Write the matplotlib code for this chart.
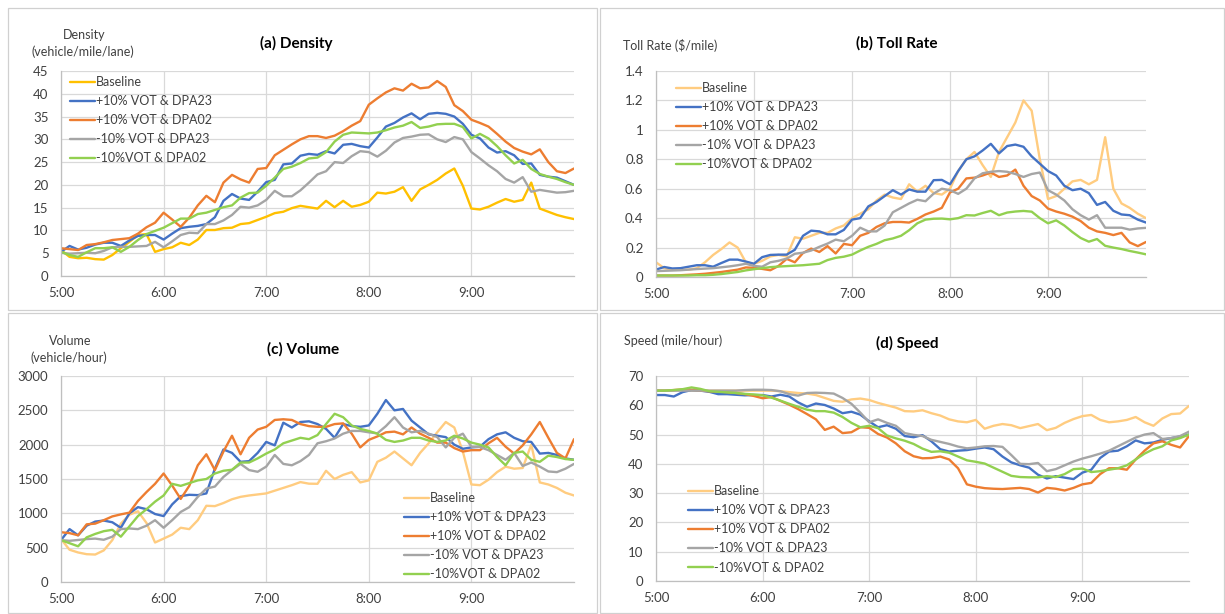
import numpy as np
import matplotlib.pyplot as plt
from matplotlib.patches import Rectangle

plt.rcParams['font.family'] = ['Lato', 'DejaVu Sans']

W, H = 1225, 614

# time axis: minutes after 5:00, 5-minute steps
minutes = np.arange(0, 301, 5)
hour_ticks = [0, 60, 120, 180, 240]
hour_labels = ["5:00", "6:00", "7:00", "8:00", "9:00"]
scenarios = ["Baseline", "+10% VOT & DPA23", "+10% VOT & DPA02",
             "-10% VOT & DPA23", "-10%VOT & DPA02"]

# (a) density (vehicle/mile/lane)
density_base = [5.7, 4.2, 3.9, 4.0, 3.7, 3.6, 4.6, 6.1, 7.5, 9.0, 9.2, 5.3, 5.9, 6.3, 7.3, 6.8, 8.0, 10.1, 10.1, 10.5,
                10.6, 11.4, 11.6, 12.3, 13.0, 13.8, 14.1, 14.9, 15.4, 15.1, 14.8, 16.5, 15.1, 16.5, 15.2, 15.6, 16.3, 18.3,
                18.1, 18.5, 19.5, 16.5, 19.0, 20.0, 21.1, 22.5, 23.6, 19.8, 14.8, 14.6, 15.2, 16.1, 16.9, 16.3, 16.7,
                20.5, 14.8, 14.1, 13.4, 12.9, 12.5]
density_up23 = [5.3, 6.6, 5.8, 6.2, 6.9, 7.3, 7.3, 6.6, 7.8, 8.8, 9.0, 9.0, 8.0, 9.3, 10.5, 10.8, 11.0, 11.4, 12.9, 16.5,
                18.0, 17.0, 16.7, 18.5, 20.6, 21.1, 24.5, 24.7, 26.4, 26.8, 26.6, 27.4, 26.9, 28.8, 29.0, 28.5, 28.2, 30.4,
                32.8, 33.6, 34.8, 35.7, 34.4, 35.6, 35.8, 35.6, 35.0, 33.4, 31.0, 30.2, 28.2, 27.1, 27.4, 26.5, 24.6, 24.7,
                22.2, 21.8, 21.6, 20.8, 20.0]
density_up02 = [6.1, 5.9, 5.7, 6.8, 7.0, 7.4, 7.9, 8.1, 8.3, 9.3, 10.7, 11.7, 13.9, 12.4, 10.8, 12.8, 15.5, 17.6, 16.2,
                20.5, 22.2, 21.2, 20.5, 23.5, 23.7, 26.5, 27.7, 28.9, 30.0, 30.7, 30.7, 30.3, 30.8, 31.8, 33.0, 34.0, 37.6,
                39.0, 40.3, 41.2, 40.7, 42.2, 41.2, 41.4, 42.8, 41.5, 37.5, 36.2, 34.3, 33.6, 32.8, 31.2, 29.5, 28.1, 27.3,
                26.7, 27.8, 25.0, 23.0, 22.6, 23.6]
density_dn23 = [5.1, 4.9, 5.0, 5.1, 5.0, 5.5, 6.3, 6.4, 6.4, 6.5, 6.6, 7.5, 6.3, 7.6, 9.0, 9.5, 9.4, 11.4, 11.4, 12.2,
                13.4, 15.2, 15.0, 15.5, 16.7, 18.7, 17.5, 17.5, 18.8, 20.5, 22.3, 23.0, 25.0, 24.8, 26.3, 27.4, 27.2, 26.2,
                27.5, 29.3, 30.3, 30.6, 31.0, 31.1, 30.0, 29.4, 30.5, 30.0, 27.2, 25.8, 24.3, 23.0, 21.3, 20.5, 21.7, 18.5,
                18.9, 18.6, 18.3, 18.4, 18.7]
density_dn02 = [5.3, 4.6, 4.2, 5.2, 6.1, 6.1, 6.3, 5.3, 6.4, 7.9, 9.2, 9.9, 10.6, 11.6, 12.6, 12.6, 13.6, 13.9, 14.5, 15.1,
                15.5, 17.2, 18.2, 18.3, 19.8, 21.6, 23.5, 24.0, 24.8, 25.8, 26.0, 27.2, 29.5, 31.0, 31.5, 31.4, 31.3, 31.5,
                32.0, 32.6, 33.0, 33.8, 32.5, 32.8, 33.3, 33.4, 33.4, 32.7, 30.2, 31.2, 30.2, 28.5, 26.5, 24.7, 25.5, 23.5,
                22.4, 21.8, 21.3, 20.6, 20.0]

# (b) toll rate ($/mile)
toll_base = [0.10, 0.06, 0.05, 0.05, 0.05, 0.06, 0.10, 0.15, 0.19, 0.235, 0.20, 0.10, 0.09, 0.11, 0.14, 0.15, 0.14, 0.27,
             0.26, 0.28, 0.30, 0.30, 0.33, 0.35, 0.40, 0.43, 0.46, 0.52, 0.56, 0.54, 0.53, 0.63, 0.58, 0.62, 0.57, 0.56,
             0.60, 0.72, 0.80, 0.85, 0.76, 0.68, 0.85, 0.95, 1.05, 1.20, 1.13, 0.80, 0.53, 0.55, 0.60, 0.65, 0.66, 0.63,
             0.66, 0.95, 0.60, 0.50, 0.47, 0.43, 0.40]
toll_up23 = [0.05, 0.068, 0.058, 0.06, 0.07, 0.08, 0.08, 0.07, 0.095, 0.118, 0.118, 0.105, 0.09, 0.135, 0.15, 0.152, 0.152,
             0.185, 0.28, 0.315, 0.31, 0.29, 0.29, 0.32, 0.39, 0.40, 0.48, 0.51, 0.55, 0.59, 0.56, 0.595, 0.58, 0.58,
             0.658, 0.66, 0.63, 0.72, 0.80, 0.82, 0.86, 0.905, 0.84, 0.89, 0.90, 0.885, 0.82, 0.77, 0.72, 0.69, 0.62,
             0.59, 0.60, 0.57, 0.49, 0.51, 0.45, 0.425, 0.42, 0.39, 0.37]
toll_up02 = [0.01, 0.01, 0.01, 0.012, 0.015, 0.018, 0.022, 0.028, 0.034, 0.042, 0.05, 0.065, 0.062, 0.055, 0.046, 0.075,
             0.123, 0.10, 0.163, 0.193, 0.17, 0.21, 0.16, 0.225, 0.216, 0.28, 0.30, 0.34, 0.365, 0.374, 0.374, 0.37,
             0.395, 0.425, 0.445, 0.47, 0.575, 0.60, 0.67, 0.675, 0.69, 0.71, 0.68, 0.69, 0.73, 0.62, 0.55, 0.52, 0.465,
             0.445, 0.43, 0.41, 0.38, 0.335, 0.31, 0.30, 0.285, 0.30, 0.235, 0.21, 0.238]
toll_dn23 = [0.04, 0.042, 0.044, 0.046, 0.05, 0.054, 0.057, 0.06, 0.066, 0.072, 0.08, 0.09, 0.075, 0.07, 0.10, 0.11, 0.125,
             0.158, 0.165, 0.18, 0.205, 0.227, 0.254, 0.243, 0.28, 0.335, 0.31, 0.31, 0.35, 0.44, 0.47, 0.50, 0.525,
             0.515, 0.567, 0.60, 0.59, 0.565, 0.60, 0.67, 0.705, 0.715, 0.72, 0.715, 0.70, 0.68, 0.70, 0.71, 0.59,
             0.56, 0.52, 0.46, 0.42, 0.39, 0.42, 0.335, 0.335, 0.335, 0.322, 0.33, 0.334]
toll_dn02 = [0.01, 0.01, 0.01, 0.01, 0.01, 0.012, 0.012, 0.015, 0.02, 0.027, 0.034, 0.045, 0.053, 0.06, 0.067, 0.071,
             0.074, 0.077, 0.08, 0.085, 0.09, 0.115, 0.13, 0.138, 0.152, 0.18, 0.205, 0.225, 0.25, 0.262, 0.28, 0.318,
             0.365, 0.39, 0.396, 0.397, 0.392, 0.40, 0.42, 0.418, 0.435, 0.45, 0.42, 0.438, 0.445, 0.449, 0.444, 0.40,
             0.365, 0.385, 0.35, 0.305, 0.265, 0.24, 0.258, 0.212, 0.20, 0.19, 0.177, 0.166, 0.154]

# (c) volume (vehicle/hour)
volume_base = [625, 470, 430, 405, 400, 460, 610, 850, 980, 1030, 860, 575, 632, 690, 790, 770, 900, 1110, 1105, 1150,
               1205, 1240, 1260, 1275, 1290, 1330, 1370, 1410, 1455, 1432, 1430, 1620, 1500, 1560, 1600, 1450, 1480,
               1750, 1810, 1900, 1800, 1700, 1880, 2020, 2180, 2330, 2250, 1900, 1420, 1410, 1490, 1600, 1680, 1650,
               1660, 2000, 1450, 1420, 1370, 1300, 1260]
volume_up23 = [610, 770, 680, 820, 880, 895, 870, 790, 1000, 1090, 1060, 990, 960, 1130, 1250, 1270, 1265, 1290, 1650,
               1930, 1880, 1750, 1760, 1880, 2040, 1990, 2320, 2250, 2330, 2340, 2300, 2230, 2100, 2300, 2270, 2260,
               2280, 2450, 2650, 2500, 2520, 2350, 2250, 2150, 2130, 2110, 2000, 1940, 1960, 1970, 2080, 2150, 2180,
               2100, 2050, 2040, 1870, 1880, 1850, 1800, 1780]
volume_up02 = [725, 712, 680, 840, 850, 900, 955, 985, 1010, 1180, 1310, 1430, 1580, 1405, 1210, 1400, 1700, 1860, 1630,
               1900, 2130, 1860, 2100, 2220, 2260, 2360, 2370, 2360, 2300, 2270, 2260, 2260, 2300, 2310, 2160, 1960,
               2070, 2120, 2180, 2190, 2150, 2250, 2160, 2100, 2030, 2030, 1950, 1900, 1920, 1920, 2020, 2100, 1970,
               1870, 1990, 2150, 2330, 2100, 1880, 1800, 2080]
volume_dn23 = [610, 600, 612, 625, 632, 615, 660, 770, 780, 770, 820, 900, 790, 900, 1020, 1090, 1240, 1360, 1390, 1530,
               1630, 1720, 1630, 1605, 1680, 1850, 1720, 1700, 1760, 1850, 2020, 2050, 2090, 2160, 2200, 2200, 2180,
               2165, 2270, 2400, 2250, 2180, 2200, 2160, 2110, 1960, 2100, 2160, 1970, 1965, 1920, 1850, 1780, 1880,
               1690, 1740, 1680, 1610, 1600, 1650, 1720]
volume_dn02 = [610, 565, 520, 650, 700, 740, 760, 660, 810, 960, 1060, 1170, 1260, 1430, 1400, 1440, 1480, 1500, 1580,
               1620, 1635, 1740, 1740, 1800, 1870, 1930, 2020, 2060, 2100, 2080, 2140, 2300, 2450, 2400, 2280, 2230,
               2200, 2160, 2070, 2040, 2060, 2100, 2100, 2060, 2040, 2060, 2130, 2090, 2030, 2000, 1960, 1820, 1700,
               1880, 1900, 1780, 1750, 1840, 1820, 1790, 1780]

# (d) speed (mile/hour)
speed_base = [65, 65, 65, 65.2, 65, 65, 65, 65, 65, 65, 65, 65, 65, 65, 64.8, 64.5, 64.2, 64, 63.5, 62.5, 61.5, 61.2, 62,
              62.3, 61.8, 60.8, 60, 59.2, 58, 57.9, 58.3, 57.3, 56.5, 55.2, 54.5, 54.2, 55, 52, 53, 53.6, 53.2, 52.2,
              52.9, 53.6, 51.5, 52.3, 54, 55.3, 56.3, 56.7, 55, 54.2, 54.5, 55, 56, 54.2, 53, 55.5, 57, 57.2, 59.8]
speed_up23 = [63.5, 63.5, 63, 64.5, 65.2, 65, 64.6, 63.8, 63.8, 63.6, 63.4, 63.5, 63.5, 63, 63.6, 63, 61, 59.5, 60.6,
              60.1, 58.9, 57.3, 57.8, 56.8, 54.5, 52.5, 53.2, 52, 49.5, 49.1, 49.8, 47.7, 45, 44.2, 44.5, 44.7, 45.2,
              45.6, 45, 42.5, 40.5, 39.5, 38.7, 36.3, 35, 35.8, 35.3, 34.8, 37, 38, 42, 44.2, 44.5, 46, 48, 47, 47.3,
              48.2, 48.8, 49.3, 50]
speed_up02 = [65, 65, 65.2, 65.4, 65.3, 65, 64.8, 64.7, 64.5, 64.2, 63.8, 63.2, 62.4, 62.8, 61.5, 60.2, 58.7, 57, 55.2,
              51.6, 52.7, 50.5, 50.8, 52.5, 52.3, 50.2, 49, 47, 44.3, 42.6, 41.9, 42, 42.5, 41.5, 38.5, 33, 32.2, 31.7,
              31.5, 31.4, 31.6, 31.8, 31.4, 30.2, 31.8, 31.5, 30.9, 31.8, 33, 33.5, 36.5, 38.5, 38.5, 38, 41.5, 44.5, 47,
              47.7, 46.5, 45.6, 49.5]
speed_dn23 = [65, 65, 65, 65, 65, 65, 65, 65, 65, 65, 65.2, 65.3, 65.3, 65.2, 64.8, 63.8, 63.3, 64.2, 64.3, 64.2, 64, 62.5,
              60.5, 57.5, 54.2, 55.2, 54, 53, 50.5, 49.9, 49.5, 48.2, 47.5, 46.8, 45.9, 45.3, 45.6, 46, 46.1, 45.8, 43,
              40, 39.9, 40.3, 37.5, 38.2, 39.5, 40.8, 41.8, 42.6, 43.5, 44.5, 46, 47.5, 49, 50, 50.5, 48.5, 48.8, 49.5,
              51]
speed_dn02 = [65, 65, 65.2, 65.5, 66.1, 65.6, 64.8, 64.6, 64.4, 64.2, 63.9, 63.7, 63.4, 62.6, 61.6, 60.5, 59.5, 58.5, 58,
              58, 57.5, 56, 54, 52.5, 53, 52.2, 49.7, 48.7, 47.9, 46.8, 45.2, 44.1, 44.3, 43.8, 42.5, 41.2, 40.7, 40.1,
              38.7, 37.3, 35.9, 35.5, 35.4, 35.4, 35.8, 35.5, 36.5, 38.2, 38.4, 37.2, 37.5, 38, 38.5, 39.5, 41.5, 43.5,
              45, 46, 48, 48.8, 50]

colors_a = ['#FFC000', '#4472C4', '#ED7D31', '#A5A5A5', '#92D050']
colors_rest = ['#FFCC80', '#4472C4', '#ED7D31', '#A5A5A5', '#92D050']


def frac_rect(x0, y0, x1, y1):
    # pixel box (top-left origin) -> figure fraction rect
    return [x0 / W, 1 - y1 / H, (x1 - x0) / W, (y1 - y0) / H]


def fpt(x, y):
    return x / W, 1 - y / H


fig = plt.figure(figsize=(W / 100, H / 100), dpi=100)

# chart frames, like the excel chart areas
for x0, y0, x1, y1 in [(8, 8, 597, 310), (600, 8, 1224, 310), (8, 313, 597, 613), (600, 313, 1224, 613)]:
    fig.add_artist(Rectangle(fpt(x0, y1), (x1 - x0) / W, (y1 - y0) / H, transform=fig.transFigure,
                             fill=False, edgecolor='#D0D0D0', lw=0.9))


def panel(rect, series, colors, ymax, ystep, title, title_xy, ylabel, ylabel_xy, leg_xy):
    ax = fig.add_axes(frac_rect(*rect))
    for vals, lab, c in zip(series, scenarios, colors):
        ax.plot(minutes, vals, color=c, lw=1.7, label=lab, solid_capstyle='round', solid_joinstyle='round')
    ax.set_xlim(0, 300)
    ax.set_ylim(0, ymax)
    ax.set_xticks(hour_ticks, hour_labels)
    yt = np.arange(0, ymax + ystep / 2, ystep)
    ax.set_yticks(yt, [f"{v:g}" for v in np.round(yt, 2)])
    ax.grid(color='#D9D9D9', lw=0.9)
    ax.set_axisbelow(True)
    for s in ['top', 'right']:
        ax.spines[s].set_visible(False)
    for s in ['left', 'bottom']:
        ax.spines[s].set_color('#BFBFBF')
        ax.spines[s].set_linewidth(0.9)
    ax.tick_params(axis='both', length=0, labelsize=9.5, colors='#404040')
    ax.tick_params(axis='y', pad=9)
    ax.tick_params(axis='x', pad=8)
    fig.text(*fpt(*title_xy), title, ha='center', va='center', fontsize=11, fontweight='bold')
    for line, (lx, ly) in zip(ylabel, ylabel_xy):
        fig.text(*fpt(lx, ly), line, ha='center', va='center', fontsize=9, color='#404040')
    ax.legend(loc='upper left', bbox_to_anchor=fpt(*leg_xy), bbox_transform=fig.transFigure,
              frameon=False, fontsize=9, handlelength=2.0, handletextpad=0.1, borderpad=0,
              borderaxespad=0, labelspacing=0.57, labelcolor='#404040')
    return ax


panel((61, 71, 574, 276), [density_base, density_up23, density_up02, density_dn23, density_dn02], colors_a,
      45, 5, "(a) Density", (296, 43), ["Density", "(vehicle/mile/lane)"], [(84, 35), (83, 52)], (70, 76))
panel((656, 71, 1146, 277), [toll_base, toll_up23, toll_up02, toll_dn23, toll_dn02], colors_rest,
      1.4, 0.2, "(b) Toll Rate", (897, 43), ["Toll Rate ($/mile)"], [(670, 45)], (676, 82))
panel((61, 376, 574, 582), [volume_base, volume_up23, volume_up02, volume_dn23, volume_dn02], colors_rest,
      3000, 500, "(c) Volume", (303, 349), ["Volume", "(vehicle/hour)"], [(70, 341), (69, 358)], (404, 492))
panel((656, 376, 1189, 581), [speed_base, speed_up23, speed_up02, speed_dn23, speed_dn02], colors_rest,
      70, 10, "(d) Speed", (907, 343), ["Speed (mile/hour)"], [(673, 341)], (688, 485))

fig.savefig("out.png", dpi=100)
